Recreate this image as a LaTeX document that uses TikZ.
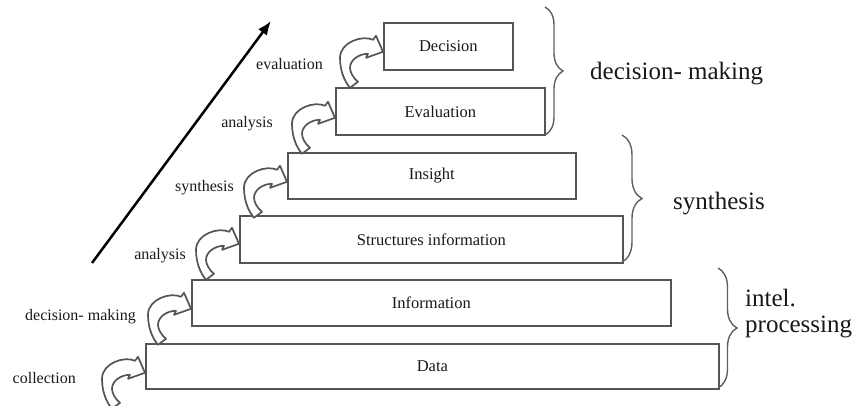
\documentclass[tikz,border=0pt]{standalone}
\usepackage{fontspec}
\setmainfont{Liberation Serif}
\usetikzlibrary{arrows.meta,decorations.pathreplacing,calc}
\definecolor{edgegray}{RGB}{85,85,85}
\definecolor{bracegray}{RGB}{95,95,95}
\definecolor{inkdark}{RGB}{25,25,25}

\tikzset{
  level/.style={draw=edgegray, line width=1.8pt, fill=white, rectangle, inner sep=0pt,
    anchor=north west, font=\fontsize{16.5}{18}\selectfont, text=inkdark},
  steplabel/.style={inner sep=0pt, anchor=base east, font=\fontsize{16}{18}\selectfont, text=inkdark},
  grouplabel/.style={inner sep=0pt, anchor=base west, font=\fontsize{25}{26}\selectfont,
    text=inkdark, align=left},
  groupbrace/.style={draw=bracegray, line width=1.4pt, decorate,
    decoration={brace, amplitude=#1}},
  trend/.style={line width=2.5pt, -{Latex[length=14pt,width=11pt]}},
  % hollow curved arrow; its tip sits at the origin
  loopback/.pic={
    \draw[draw=edgegray, line width=1.7pt, fill=white, line join=round]
      (0,0) -- (-7,-16) -- (-10,-12)
      .. controls (-20,-17) and (-43,-10) .. (-43,6)
      .. controls (-43,20) and (-38,30) .. (-33,36)
      -- (-25,30)
      .. controls (-30,26) and (-33,20) .. (-33,16)
      .. controls (-33,8) and (-24,2) .. (-15,2)
      -- (-17,6) -- cycle;
  }
}

\begin{document}
\begin{tikzpicture}[x=1pt,y=-1pt]
\useasboundingbox (0,0) rectangle (860,406);

% staircase of levels
\node[level, minimum width=573pt, minimum height=45pt] (data)   at (145,343) {Data};
\node[level, minimum width=479pt, minimum height=46pt] (info)   at (191,279) {Information};
\node[level, minimum width=383pt, minimum height=47pt] (struct) at (239,215) {Structures information};
\node[level, minimum width=288pt, minimum height=46pt] (insight) at (287,152) {Insight};
\node[level, minimum width=209pt, minimum height=47pt] (eval)   at (335,87) {Evaluation};
\node[level, minimum width=129pt, minimum height=47pt] (decide) at (383,22) {Decision};

% transitions between levels
\pic at ([yshift=17pt]data.south west) {loopback};
\pic at ([yshift=18pt]info.south west) {loopback};
\pic at ([yshift=20pt]struct.south west) {loopback};
\pic at ([yshift=18pt]insight.south west) {loopback};
\pic at ([yshift=18pt]eval.south west) {loopback};
\pic at ([yshift=19pt]decide.south west) {loopback};

% transition labels
\node[steplabel] (lcollect) at (76,383)  {collection};
\node[steplabel] (ldecide)  at (136,320) {decision- making};
\node[steplabel] (lanalysa) at (186,260) {analysis};
\node[steplabel] (lsynth)   at (234,192) {synthesis};
\node[steplabel] (lanalysb) at (273,128) {analysis};
\node[steplabel] (leval)    at (323,70)  {evaluation};

% overall direction
\coordinate (trendstart) at (92,263);
\coordinate (trendend)   at (271,21);
\draw[trend] (trendstart) -- (trendend);

% groups
\coordinate (ga) at (545,7);   \coordinate (gb) at (545,135);
\coordinate (gc) at (622,135); \coordinate (gd) at (622,262);
\coordinate (ge) at (718,268); \coordinate (gf) at (718,388);
\draw[groupbrace=18pt] (ga) -- (gb);
\draw[groupbrace=20pt] (gc) -- (gd);
\draw[groupbrace=19pt] (ge) -- (gf);

\node[grouplabel] (gdecision) at (590,80)  {decision- making};
\node[grouplabel] (gsynth)    at (673,210) {synthesis};
\node[grouplabel] (gintel)    at (745,333) {intel.\\processing};
\end{tikzpicture}
\end{document}
